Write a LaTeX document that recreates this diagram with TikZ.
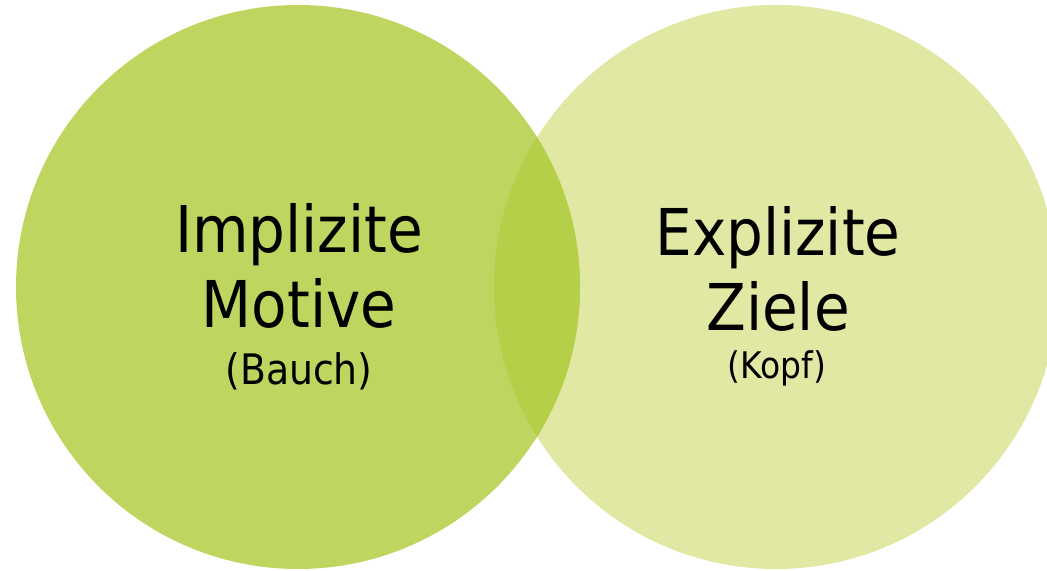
\documentclass[tikz,border=0pt]{standalone}
\usepackage{fontspec}
\setmainfont{DejaVu Sans Condensed}
\usepackage{xcolor}
\definecolor{motivgreen}{HTML}{BED65F}
\definecolor{zielgreen}{HTML}{E0E8A3}
\definecolor{overlapgreen}{HTML}{B5D048}
\tikzset{
  bigword/.style={anchor=base, inner sep=0, font=\fontsize{48.4}{56}\selectfont},
  smallword/.style={anchor=base, inner sep=0}
}

\begin{document}
\begin{tikzpicture} [x=0.75pt,y=-0.75pt]
\useasboundingbox (0,0) rectangle (1047,571);
\fill[zielgreen] (776,287) circle (282);
\fill[motivgreen] (298,287) circle (282);
\begin{scope}
  \clip (776,287) circle (282);
  \fill[overlapgreen] (298,287) circle (282);
\end{scope}

\node[bigword] (impl) at (299,252) {Implizite};
\node[bigword] (motive) at (299,327) {Motive};
\node[smallword, font=\fontsize{31.5}{36}\selectfont] (bauch) at (299,384) {(Bauch)};

\node[bigword] (expl) at (778,255) {Explizite};
\node[bigword] (ziele) at (778,330) {Ziele};
\node[smallword, font=\fontsize{27.5}{32}\selectfont] (kopf) at (777,378) {(Kopf)};
\end{tikzpicture}
\end{document}
